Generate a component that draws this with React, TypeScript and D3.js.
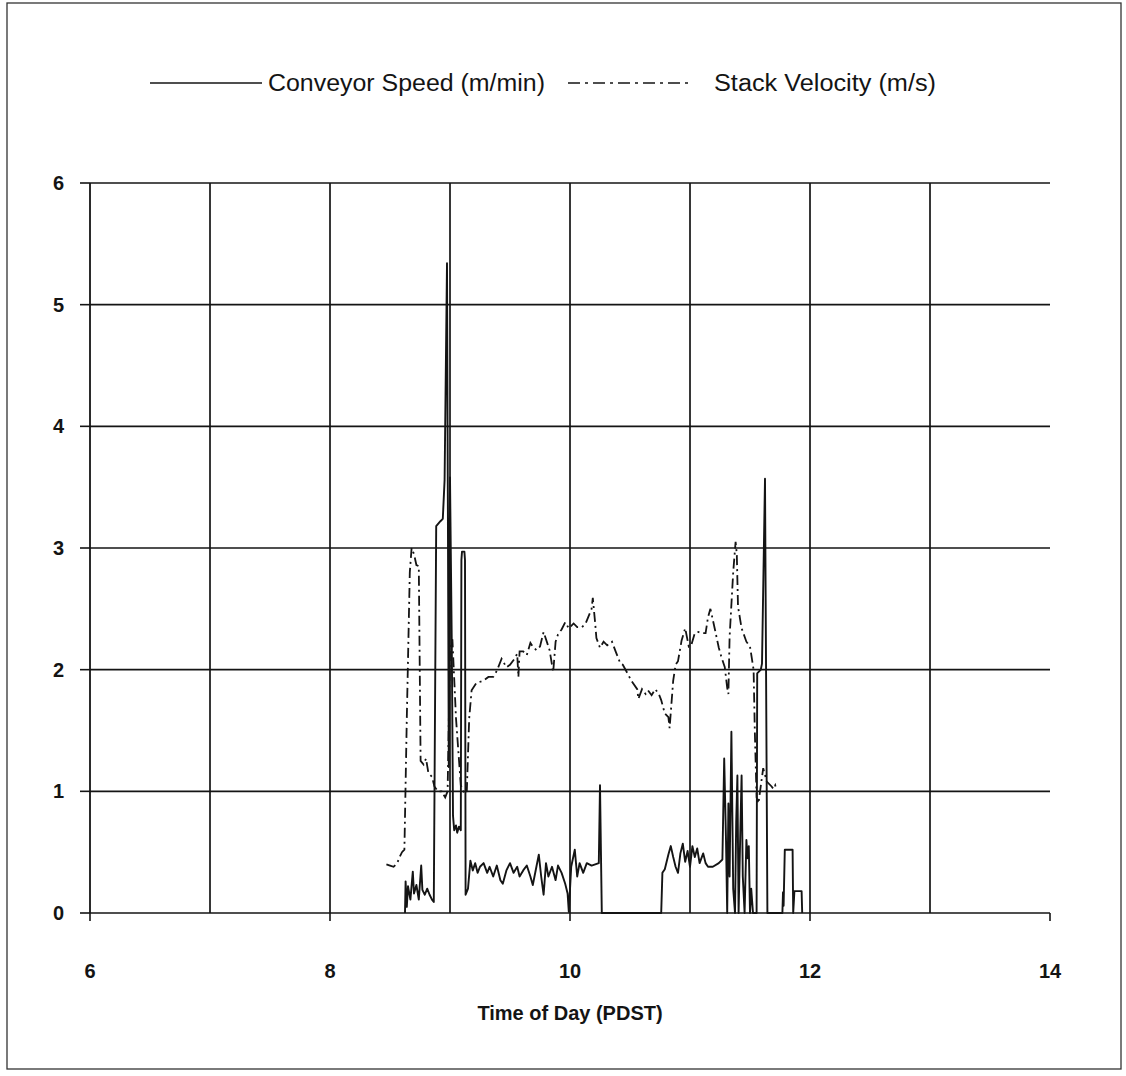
import React from "react";
import * as d3 from "d3";

const xTicks = [6, 8, 10, 12, 14];
const xGrid = [7, 8, 9, 10, 11, 12, 13];
const yTicks = [0, 1, 2, 3, 4, 5, 6];

const conveyorTime = [
  8.625, 8.63, 8.64, 8.65, 8.67, 8.69, 8.7, 8.72, 8.74, 8.76, 8.77, 8.79, 8.81, 8.83, 8.85, 8.865,
  8.885, 8.92, 8.94, 8.955, 8.975, 8.99, 9.0, 9.015, 9.025, 9.035, 9.05, 9.06, 9.075, 9.09,
  9.095, 9.1, 9.12, 9.125, 9.13, 9.15, 9.17, 9.19, 9.21, 9.23, 9.25, 9.28, 9.31, 9.33, 9.36,
  9.39, 9.42, 9.44, 9.47, 9.5, 9.53, 9.56, 9.58, 9.61, 9.64, 9.67, 9.69, 9.72, 9.74, 9.76,
  9.78, 9.8, 9.82, 9.85, 9.88, 9.9, 9.93, 9.96, 9.98, 9.99, 10.01, 10.04, 10.06, 10.08, 10.11,
  10.14, 10.18, 10.24, 10.25, 10.265, 10.76, 10.77, 10.79, 10.82, 10.84, 10.86, 10.88, 10.9,
  10.92, 10.94, 10.96, 10.98, 11.0, 11.02, 11.04, 11.06, 11.08, 11.11, 11.13, 11.15, 11.19,
  11.24, 11.27, 11.285, 11.3, 11.31, 11.32, 11.33, 11.345, 11.36, 11.375, 11.385, 11.395,
  11.405, 11.42, 11.43, 11.44, 11.455, 11.47, 11.48, 11.49, 11.5, 11.51, 11.525, 11.555,
  11.56, 11.59, 11.6, 11.625, 11.645, 11.77, 11.775, 11.78, 11.79, 11.855, 11.86, 11.87,
  11.93, 11.935,
];
const conveyorSpeed = [
  0, 0.26, 0.05, 0.22, 0.11, 0.34, 0.16, 0.23, 0.11, 0.39, 0.19, 0.15, 0.2, 0.15, 0.11, 0.09,
  3.18, 3.22, 3.24, 3.56, 5.34, 1.2, 3.58, 2.2, 0.8, 0.68, 0.72, 0.66, 0.71, 0.68,
  2.9, 2.97, 2.97, 2.9, 0.15, 0.2, 0.43, 0.35, 0.41, 0.33, 0.38, 0.41, 0.33, 0.38, 0.3,
  0.39, 0.27, 0.24, 0.35, 0.41, 0.33, 0.38, 0.3, 0.35, 0.39, 0.3, 0.23, 0.38, 0.48, 0.3,
  0.15, 0.41, 0.3, 0.38, 0.27, 0.39, 0.33, 0.24, 0.16, 0.01, 0.38, 0.52, 0.3, 0.41, 0.33,
  0.41, 0.39, 0.41, 1.05, 0, 0, 0.33, 0.36, 0.48, 0.55, 0.46, 0.38, 0.33,
  0.49, 0.57, 0.42, 0.51, 0.38, 0.55, 0.46, 0.53, 0.41, 0.49, 0.41, 0.38, 0.38,
  0.41, 0.44, 1.27, 0.6, 0, 0.9, 0.3, 1.49, 0.2, 0, 0.75, 1.13,
  0, 0.7, 1.13, 0.3, 0, 0.6, 0.45, 0.55, 0, 0.2, 0, 0,
  1.97, 2.0, 2.05, 3.57, 0, 0, 0.17, 0.06, 0.52, 0.52, 0, 0.18,
  0.18, 0,
];

const velocityTime = [
  8.47, 8.5, 8.53, 8.56, 8.58, 8.6, 8.62, 8.64, 8.665, 8.68, 8.7, 8.72, 8.74, 8.755, 8.78, 8.8,
  8.82, 8.85, 8.87, 8.9, 8.93, 8.96, 8.98, 9.0, 9.02, 9.05, 9.09, 9.12, 9.14, 9.16, 9.18, 9.22,
  9.28, 9.32, 9.36, 9.39, 9.43, 9.47, 9.5, 9.53, 9.56, 9.57, 9.58, 9.61, 9.64, 9.67, 9.69,
  9.72, 9.75, 9.78, 9.81, 9.83, 9.86, 9.88, 9.9, 9.93, 9.96, 9.99, 10.03, 10.06, 10.1, 10.13,
  10.18, 10.19, 10.21, 10.22, 10.25, 10.28, 10.31, 10.35, 10.38, 10.42, 10.44, 10.49, 10.51,
  10.56, 10.57, 10.6, 10.63, 10.65, 10.68, 10.71, 10.74, 10.76, 10.79, 10.82, 10.83, 10.86,
  10.88, 10.9, 10.93, 10.96, 10.99, 11.01, 11.04, 11.07, 11.1, 11.13, 11.15, 11.17, 11.21,
  11.24, 11.26, 11.29, 11.31, 11.32, 11.33, 11.36, 11.38, 11.39, 11.4, 11.43, 11.47, 11.5,
  11.53, 11.54, 11.555, 11.57, 11.61, 11.64, 11.68, 11.695, 11.71, 11.72,
];
const stackVelocity = [
  0.4, 0.39, 0.38, 0.41, 0.46, 0.5, 0.52, 1.6, 2.8, 3.0, 2.95, 2.86, 2.85, 1.25, 1.22, 1.27,
  1.15, 1.12, 1.04, 1.0, 1.0, 0.95, 1.0, 2.15, 2.25, 1.6, 1.05, 0.98, 1.0, 1.6, 1.83, 1.89,
  1.91, 1.94, 1.94, 1.99, 2.09, 2.02, 2.04, 2.08, 2.13, 1.94, 2.15, 2.15, 2.12, 2.22, 2.19,
  2.16, 2.19, 2.31, 2.22, 2.16, 1.98, 2.23, 2.29, 2.33, 2.39, 2.34, 2.38, 2.35, 2.35, 2.38,
  2.5, 2.59, 2.38, 2.26, 2.18, 2.23, 2.2, 2.23, 2.15, 2.05, 2.04, 1.95, 1.91,
  1.84, 1.76, 1.84, 1.8, 1.83, 1.79, 1.84, 1.8, 1.75, 1.64, 1.61, 1.52, 1.91,
  2.04, 2.07, 2.24, 2.34, 2.19, 2.2, 2.3, 2.31, 2.3, 2.3, 2.43, 2.5, 2.32,
  2.18, 2.11, 2.02, 1.85, 1.8, 2.27, 2.8, 3.05, 2.95, 2.52, 2.34, 2.23, 2.19,
  2.0, 1.5, 0.95, 0.9, 1.19, 1.08, 1.04, 1.02, 1.05, 1.01,
];

const legendConveyor = "Conveyor Speed (m/min)";
const legendVelocity = "Stack Velocity (m/s)";
const xTitle = "Time of Day (PDST)";

export default function App() {
  const x = d3.scaleLinear().domain([6, 14]).range([90, 1050]);
  const y = d3.scaleLinear().domain([0, 6]).range([913, 183]);

  const line = d3
    .line<[number, number]>()
    .x((d) => x(d[0]))
    .y((d) => y(d[1]));

  const conv: [number, number][] = conveyorTime.map((t, i) => [t, conveyorSpeed[i]]);
  const vel: [number, number][] = velocityTime.map((t, i) => [t, stackVelocity[i]]);

  const font = "'Liberation Sans', Arial, Helvetica, sans-serif";
  const ink = "#141414";

  return (
    <svg
      width={1126}
      height={1076}
      style={{ position: "absolute", left: 0, top: 0, background: "#fff" }}
    >
      <rect x={0} y={0} width={1126} height={1076} fill="#fff" />
      <rect x={7} y={3} width={1114} height={1066} fill="none" stroke="#333" strokeWidth={1.3} />

      {/* legend */}
      <line x1={150} x2={262} y1={83} y2={83} stroke={ink} strokeWidth={1.7} />
      <text x={268} y={91} fontFamily={font} fontSize={23} fill={ink} textLength={277} lengthAdjust="spacingAndGlyphs">
        {legendConveyor}
      </text>
      <line x1={568} x2={692} y1={83} y2={83} stroke={ink} strokeWidth={1.7} strokeDasharray="12,5,3,5" />
      <text x={714} y={91} fontFamily={font} fontSize={23} fill={ink} textLength={222} lengthAdjust="spacingAndGlyphs">
        {legendVelocity}
      </text>

      {/* gridlines */}
      {yTicks.map((v) => (
        <line key={"h" + v} x1={x(6)} x2={x(14)} y1={y(v)} y2={y(v)} stroke={ink} strokeWidth={1.7} />
      ))}
      {xGrid.map((t) => (
        <line key={"v" + t} x1={x(t)} x2={x(t)} y1={y(0)} y2={y(6)} stroke={ink} strokeWidth={1.7} />
      ))}
      <line x1={x(6)} x2={x(6)} y1={y(0)} y2={y(6)} stroke={ink} strokeWidth={1.8} />

      {/* ticks */}
      {yTicks.map((v) => (
        <g key={"yt" + v}>
          <line x1={x(6) - 10} x2={x(6)} y1={y(v)} y2={y(v)} stroke={ink} strokeWidth={1.6} />
          <text x={64} y={y(v) + 7} textAnchor="end" fontFamily={font} fontWeight="bold" fontSize={20} fill={ink}>
            {v}
          </text>
        </g>
      ))}
      {xTicks.map((t) => (
        <g key={"xt" + t}>
          <line x1={x(t)} x2={x(t)} y1={y(0)} y2={y(0) + 8} stroke={ink} strokeWidth={1.6} />
          <text x={x(t)} y={978} textAnchor="middle" fontFamily={font} fontWeight="bold" fontSize={20} fill={ink}>
            {t}
          </text>
        </g>
      ))}
      <text x={570} y={1020} textAnchor="middle" fontFamily={font} fontWeight="bold" fontSize={20} fill={ink}>
        {xTitle}
      </text>

      {/* series */}
      <path d={line(vel) || ""} fill="none" stroke={ink} strokeWidth={1.8} strokeDasharray="10,4,2,4" />
      <path d={line(conv) || ""} fill="none" stroke={ink} strokeWidth={1.9} strokeLinejoin="round" />
    </svg>
  );
}
